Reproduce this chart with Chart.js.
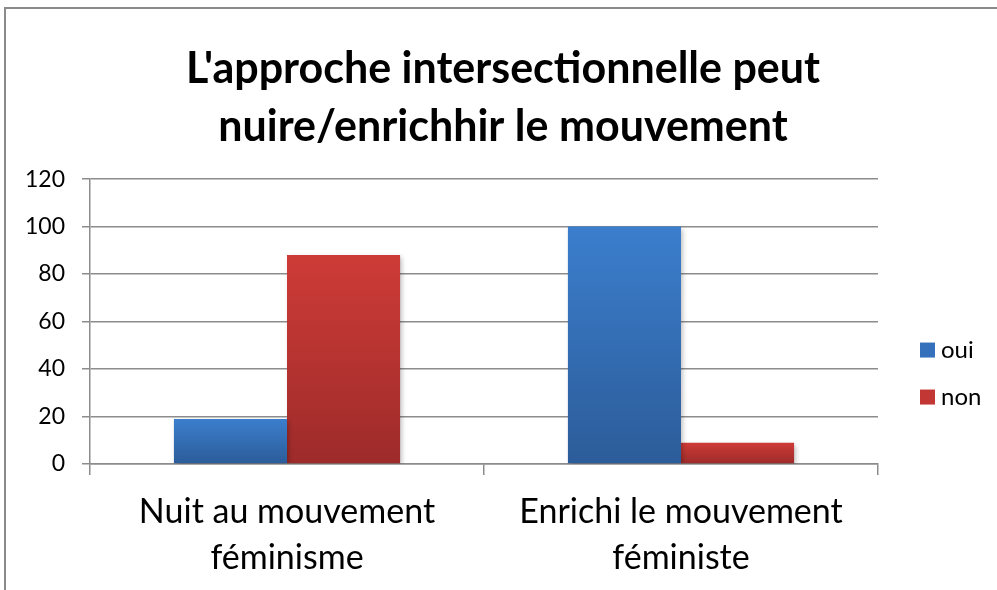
<!DOCTYPE html>
<html>
<head>
<meta charset="utf-8">
<script src="https://cdn.jsdelivr.net/npm/chart.js@4.4.1/dist/chart.umd.min.js"></script>
<style>
  html, body { margin: 0; padding: 0; background: #fff; overflow: hidden; }
  #wrap { position: relative; width: 997px; height: 590px; }
  #cadre { position: absolute; left: 4px; top: 7px; width: 1100px; height: 700px;
           border-left: 2px solid #8a8a8a; border-top: 2px solid #8a8a8a; }
  canvas { position: absolute; left: 0; top: 0; }
</style>
</head>
<body>
<div id="wrap">
  <div id="cadre"></div>
  <canvas id="graphique" width="997" height="590"></canvas>
</div>
<script>
// --- DONNÉES ---
const titre = ["L'approche intersectionnelle peut", "nuire/enrichhir le mouvement"];
const categories = [["Nuit au mouvement", "féminisme"], ["Enrichi le mouvement", "féministe"]];
const series = ['oui', 'non'];
const valeursOui = [19, 100];
const valeursNon = [88, 9];
const ticksY = [0, 20, 40, 60, 80, 100, 120];

const POLICE = "Lato, 'Open Sans', sans-serif";
const GRIS = '#8c8c8c';
const couleursLegende = ['#3570bd', '#c23734'];

// dégradé vertical propre à chaque barre (style Excel)
function degrade(haut, bas) {
    return function(ctx) {
        if (ctx.type !== 'data') return haut;
        const c = ctx.chart;
        const y = c.scales.y;
        if (!y) return haut;
        const y0 = y.getPixelForValue(0);
        const y1 = y.getPixelForValue(ctx.raw);
        if (!isFinite(y0) || !isFinite(y1) || y0 === y1) return haut;
        const g = c.ctx.createLinearGradient(0, y1, 0, y0);
        g.addColorStop(0, haut);
        g.addColorStop(1, bas);
        return g;
    };
}

// ombre légère sous les barres
const ombre = {
    id: 'ombre',
    beforeDatasetsDraw(chart) {
        const ctx = chart.ctx;
        ctx.save();
        ctx.shadowColor = 'rgba(0,0,0,0.28)';
        ctx.shadowBlur = 5;
        ctx.shadowOffsetX = 2;
        ctx.shadowOffsetY = 2;
    },
    afterDatasetsDraw(chart) { chart.ctx.restore(); }
};

// légende à droite, dessinée dans l'espace réservé par l'axe fantôme
const legende = {
    id: 'legende',
    afterDraw(chart) {
        const ctx = chart.ctx;
        const area = chart.chartArea;
        const x = area.right + 42;
        const milieu = (area.top + area.bottom) / 2 + 52;
        const pas = 47;
        ctx.save();
        ctx.font = '24px ' + POLICE;
        ctx.textBaseline = 'middle';
        ctx.fillStyle = '#000';
        chart.data.datasets.forEach((d, i) => {
            const yc = milieu + (i - 0.5) * pas;
            ctx.fillStyle = couleursLegende[i];
            ctx.fillRect(x, yc - 7.5, 15, 15);
            ctx.fillStyle = '#000';
            ctx.fillText(d.label, x + 21, yc);
        });
        ctx.restore();
    }
};

new Chart(document.getElementById('graphique'), {
    type: 'bar',
    data: {
        labels: categories,
        datasets: [
            { label: series[0], data: valeursOui, backgroundColor: degrade('#3b7ecd', '#2c5c99') },
            { label: series[1], data: valeursNon, backgroundColor: degrade('#ce3b37', '#9d2b2a') }
        ]
    },
    options: {
        responsive: false,
        animation: false,
        layout: { padding: { left: 9, right: 0, top: 0, bottom: 0 } },
        datasets: { bar: { categoryPercentage: 0.574, barPercentage: 1.0, borderWidth: 0 } },
        plugins: {
            title: {
                display: true,
                text: titre,
                color: '#000',
                font: { family: POLICE, size: 43, weight: 'bold', lineHeight: 1.35 },
                padding: { top: 40, bottom: 23 }
            },
            legend: { display: false },
            tooltip: { enabled: false }
        },
        scales: {
            x: {
                grid: { display: true, drawOnChartArea: false, drawTicks: true, tickLength: 11, color: GRIS, lineWidth: 1.5, offset: true },
                border: { display: true, color: GRIS, width: 1.5 },
                ticks: { color: '#000', font: { family: POLICE, size: 34, lineHeight: 1.35 }, padding: 14, maxRotation: 0 },
                afterFit(s) { s.height = 126; }
            },
            y: {
                min: 0, max: 120,
                afterBuildTicks(s) { s.ticks = ticksY.map(v => ({ value: v })); },
                grid: { color: GRIS, lineWidth: 1.5, tickLength: 8 },
                border: { display: true, color: GRIS, width: 1.5 },
                ticks: { color: '#000', font: { family: POLICE, size: 23 }, padding: 17 },
                afterFit(s) { s.width = 81; }
            },
            // axe fantôme : réserve la place de la légende
            yLegende: {
                position: 'right',
                min: 0, max: 120,
                grid: { display: false },
                border: { display: false },
                ticks: { display: false },
                afterFit(s) { s.width = 119; }
            }
        }
    },
    plugins: [ombre, legende]
});
</script>
</body>
</html>
